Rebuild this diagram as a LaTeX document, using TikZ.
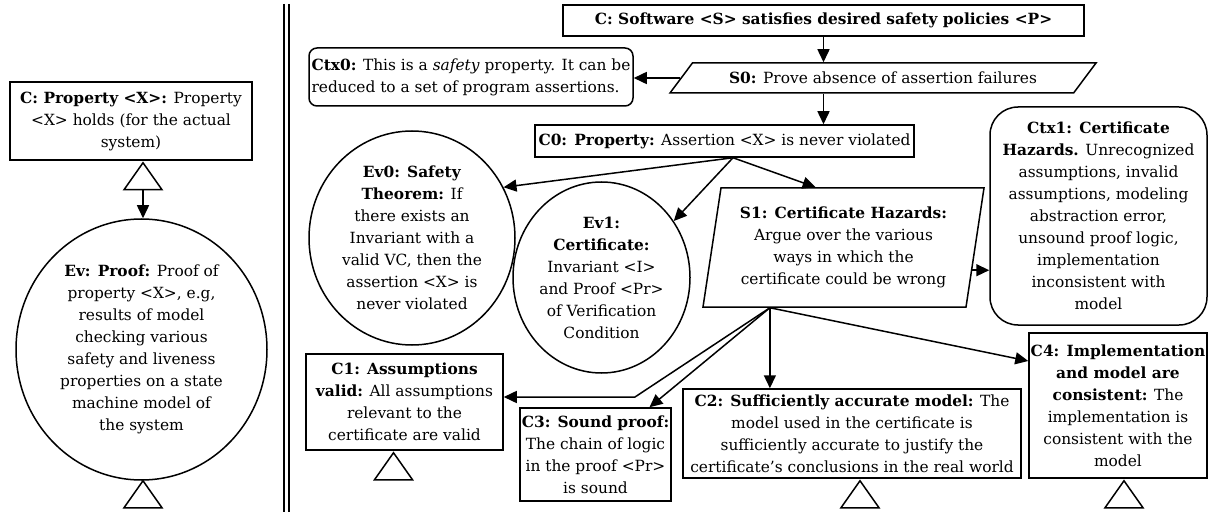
\documentclass[tikz,border=0pt]{standalone}
\usepackage{fontspec}
\setmainfont{DejaVu Serif}
\usetikzlibrary{shapes.geometric,arrows.meta}

\begin{document}
\begin{tikzpicture}[x=1pt,y=-1pt,
    every node/.style={font=\fontsize{15.4}{22}\selectfont,align=center,inner sep=0pt,line width=1.5pt},
    goal/.style={draw,rectangle},
    ctxbox/.style={draw,rectangle,rounded corners=8pt},
    evid/.style={draw,ellipse,inner sep=-12pt},
    strat/.style={draw,trapezium,trapezium stretches body=true},
    arr/.style={-{Triangle[length=13pt,width=12pt]},line width=1.5pt},
    undev/.pic={\draw[line width=1.5pt](0pt,0pt)--(-19pt,-27pt)--(19pt,-27pt)--cycle;\coordinate(-base)at(0pt,-27pt);}]
    \useasboundingbox(0,0)rectangle(1211,516);
    \node[goal,minimum width=242,minimum height=78](C)at(131,121){\textbf{C: Property <X>:} Property\\<X> holds (for the actual\\system)};
    \node[evid,minimum width=251,minimum height=261](Ev)at(141.5,349.5){\textbf{Ev: Proof:} Proof of\\property <X>, e.g,\\results of model\\checking various\\safety and liveness\\properties on a state\\machine model of\\the system};
    \pic(tC)at([xshift=12pt,yshift=-2pt]C.south){undev};
    \draw[arr](tC-base)--(tC-base|-Ev.north);
    \pic(tEv)at([xshift=1.5pt]Ev.south){undev};
    \draw[line width=1.2pt](284,4)--(284,512)(289,4)--(289,512);
    \node[goal,minimum width=521,minimum height=31](Ctop)at(823.5,20.5){\textbf{C: Software <S> satisfies desired safety policies <P>}};
    \node[strat,trapezium left angle=28,trapezium right angle=152,minimum width=426,minimum height=30](S0)at(883,78){\textbf{S0:} Prove absence of assertion failures};
    \node[ctxbox,minimum width=324,minimum height=58,align=left](Ctx0)at(471,77){\textbf{Ctx0:} This is a \textit{safety} property. It can be\\reduced to a set of program assertions.};
    \node[goal,minimum width=379,minimum height=32](C0)at(724.5,141){\textbf{C0: Property:} Assertion <X> is never violated};
    \node[evid,minimum width=206,minimum height=214](Ev0)at(412,238){\textbf{Ev0: Safety}\\\textbf{Theorem:} If\\there exists an\\Invariant with a\\valid VC, then the\\assertion <X> is\\never violated};
    \node[evid,minimum width=177,minimum height=191](Ev1)at(601.5,277.5){\textbf{Ev1:}\\\textbf{Certificate:}\\Invariant <I>\\and Proof <Pr>\\of Verification\\Condition};
    \node[strat,trapezium left angle=77.5,trapezium right angle=102.5,minimum width=281,minimum height=119](S1)at(843.5,247.5){\textbf{S1: Certificate Hazards:}\\Argue over the various\\ways in which the\\certificate could be wrong};
    \node[ctxbox,rounded corners=28pt,minimum width=217,minimum height=218](Ctx1)at(1098.5,216){\textbf{Ctx1: Certificate}\\\textbf{Hazards.} Unrecognized\\assumptions, invalid\\assumptions, modeling\\abstraction error,\\unsound proof logic,\\implementation\\inconsistent with\\model};
    \node[goal,minimum width=197,minimum height=96](C1)at(404.5,402){\textbf{C1: Assumptions}\\\textbf{valid:} All assumptions\\relevant to the\\certificate are valid};
    \node[goal,minimum width=151,minimum height=93](C3)at(595.5,454.5){\textbf{C3: Sound proof:}\\The chain of logic\\in the proof <Pr>\\is sound};
    \node[goal,minimum width=338,minimum height=89](C2)at(852,433.5){\textbf{C2: Sufficiently accurate model:} The\\model used in the certificate is\\sufficiently accurate to justify the\\certificate’s conclusions in the real world};
    \node[goal,minimum width=178,minimum height=145](C4)at(1118,405.5){\textbf{C4: Implementation}\\\textbf{and model are}\\\textbf{consistent:} The\\implementation is\\consistent with the\\model};
    \coordinate(c0b)at([xshift=8.5pt]C0.south);
    \coordinate(s1b)at([xshift=-64.5pt]S1.bottom side);
    \coordinate(bend)at(635,397);
    \draw[arr](Ctop.south)--(Ctop.south|-S0.top side);
    \draw[arr](S0.left side)--(S0.left side-|Ctx0.east);
    \draw[arr](S0.bottom side-|Ctop.south)--(C0.north-|Ctop.south);
    \draw[arr](c0b)--(Ev0.29);
    \draw[arr](c0b)--(Ev1.38);
    \draw[arr](c0b)--([xshift=-37pt]S1.top side);
    \draw[arr](S1.350)--(S1.350-|Ctx1.west);
    \draw[arr](s1b)--(s1b|-C2.north);
    \draw[arr](s1b)--([yshift=44.5pt]C4.west);
    \draw[arr](s1b)--([xshift=54pt]C3.north);
    \draw[arr](s1b)--(bend)--(bend-|C1.east);
    \pic(t1)at([xshift=-11pt,yshift=-2pt]C1.south){undev};
    \pic(t2)at([xshift=8pt,yshift=-2pt]C2.south){undev};
    \pic(t4)at([xshift=6pt,yshift=-2pt]C4.south){undev};
\end{tikzpicture}
\end{document}
